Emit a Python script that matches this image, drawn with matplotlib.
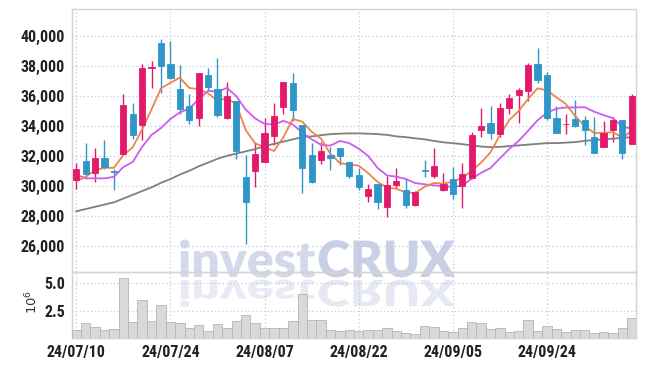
import matplotlib
matplotlib.use("Agg")
import matplotlib.pyplot as plt
import matplotlib.transforms as mtransforms
from matplotlib.textpath import TextPath
from matplotlib.patches import PathPatch
from matplotlib.font_manager import FontProperties, fontManager
from matplotlib.ticker import FuncFormatter
import numpy as np

# ---------------- data ----------------
dates = ["24/07/10", "24/07/11", "24/07/12", "24/07/15", "24/07/16", "24/07/17", "24/07/18", "24/07/19",
         "24/07/22", "24/07/23", "24/07/24", "24/07/25", "24/07/26", "24/07/29", "24/07/30", "24/07/31",
         "24/08/01", "24/08/02", "24/08/05", "24/08/06", "24/08/07", "24/08/08", "24/08/09", "24/08/12",
         "24/08/13", "24/08/14", "24/08/16", "24/08/19", "24/08/20", "24/08/21", "24/08/22", "24/08/23",
         "24/08/26", "24/08/27", "24/08/28", "24/08/29", "24/08/30", "24/09/02", "24/09/03", "24/09/04",
         "24/09/05", "24/09/06", "24/09/09", "24/09/10", "24/09/11", "24/09/12", "24/09/13", "24/09/19",
         "24/09/20", "24/09/23", "24/09/24", "24/09/25", "24/09/26", "24/09/27", "24/09/30", "24/10/02",
         "24/10/04", "24/10/07", "24/10/08", "24/10/10"]

opens = [30400, 31650, 30850, 31850, 31000, 32100, 34800, 34050, 37850, 39500,
         38100, 36450, 35350, 34550, 37400, 36450, 34550, 35650, 30600, 31000,
         31600, 33350, 35250, 36850, 34050, 32050, 31750, 32050, 32550, 31600,
         30750, 29350, 30100, 28600, 30050, 29700, 28700, 31050, 30650, 29700,
         30450, 30000, 30500, 33750, 34200, 33450, 35200, 36050, 36350, 38100,
         37400, 34500, 34100, 34450, 34400, 33250, 32600, 33750, 34400, 32800]
highs = [31500, 32850, 32550, 33050, 31150, 36100, 35500, 38100, 38300, 39800,
         39650, 38050, 36100, 37550, 37850, 38500, 36950, 35650, 32050, 32900,
         34500, 35550, 36950, 37500, 34050, 32850, 32950, 32600, 32550, 31600,
         31200, 30100, 30100, 30650, 31200, 30500, 29650, 31750, 32500, 30850,
         31250, 31500, 33600, 35200, 35350, 35500, 36100, 36550, 38200, 39200,
         37600, 35300, 34800, 35700, 34650, 34600, 34350, 34600, 34400, 36100]
lows = [29800, 30600, 30250, 31100, 29700, 32100, 33150, 33050, 36550, 36200,
        37100, 34800, 34150, 34000, 36350, 34600, 34450, 31800, 26100, 29900,
        31600, 32700, 34800, 34350, 29550, 30200, 31450, 31050, 31400, 30500,
        29750, 28950, 28450, 27950, 29800, 28550, 28650, 30600, 30500, 29650,
        29150, 28550, 30500, 33250, 33100, 33250, 34800, 34200, 35650, 36850,
        34400, 33500, 33450, 33900, 32700, 32200, 32600, 32950, 31800, 32800]
closes = [31150, 30800, 31850, 31250, 30950, 35400, 33400, 37850, 37900, 38000,
          37200, 35150, 34400, 37500, 36600, 34750, 36000, 32350, 28900, 32150,
          33550, 34650, 36950, 35050, 31200, 30250, 32300, 31850, 32000, 30650,
          29950, 29800, 28900, 30050, 30350, 28700, 29600, 31000, 31300, 30100,
          29450, 30800, 33400, 34000, 33550, 35200, 35850, 36400, 38050, 37050,
          34500, 33550, 34150, 34000, 33750, 32200, 33550, 34400, 32200, 36000]
ma5 = [30300, 30600, 31050, 31200, 31200, 32050, 32570, 33770, 35100, 36510,
       36870, 37220, 36530, 36450, 36170, 35680, 35850, 35440, 33720, 32830,
       32590, 32320, 33240, 34470, 34280, 33620, 33150, 32130, 31520, 31410,
       31350, 30850, 30260, 29870, 29810, 29560, 29520, 29940, 30190, 30140,
       30290, 30530, 31010, 31550, 32240, 33390, 34400, 35000, 35810, 36510,
       36370, 35910, 35460, 34650, 33990, 33530, 33530, 33580, 33220, 33670]
ma10 = [30750, 30500, 30500, 30500, 30600, 31250, 31600, 32600, 33400, 33855,
        34460, 34895, 35150, 35775, 36340, 36275, 36535, 35985, 35085, 34500,
        34135, 34085, 34340, 34095, 33555, 33105, 32735, 32685, 32995, 32845,
        32485, 32000, 31195, 30695, 30610, 30455, 30185, 30100, 30030, 29975,
        29925, 30025, 30475, 30870, 31190, 31840, 32465, 33005, 33680, 34375,
        34880, 35155, 35230, 35230, 35250, 34950, 34720, 34520, 33935, 33830]
ma_long = [28300, 28450, 28600, 28750, 28900, 29150, 29400, 29650, 29900, 30200,
           30450, 30750, 31000, 31300, 31550, 31800, 32000, 32150, 32300, 32450,
           32650, 32800, 32950, 33100, 33250, 33300, 33380, 33450, 33480, 33500,
           33500, 33480, 33450, 33400, 33300, 33250, 33170, 33100, 33000, 32900,
           32850, 32780, 32700, 32620, 32580, 32600, 32650, 32700, 32750, 32800,
           32850, 32850, 32880, 32920, 33000, 33050, 33100, 33150, 33200, 33250]
volumes = [0.77, 1.38, 1.02, 0.75, 0.84, 5.47, 1.47, 3.47, 1.59, 3.02,
           1.47, 1.38, 0.93, 1.20, 0.68, 1.29, 0.93, 1.56, 2.10, 1.38,
           0.93, 0.93, 0.93, 1.56, 4.02, 1.65, 1.65, 0.75, 0.62, 0.75,
           0.68, 0.75, 0.75, 0.93, 0.68, 0.50, 0.35, 1.11, 1.02, 0.68,
           0.59, 0.93, 1.47, 1.38, 0.84, 0.93, 0.59, 0.68, 1.65, 0.68,
           1.11, 0.84, 0.59, 0.75, 0.75, 0.50, 0.59, 0.50, 0.93, 1.84]
price_ticks = [26000, 28000, 30000, 32000, 34000, 36000, 38000, 40000]
volume_ticks = [2.5, 5.0]
date_tick_idx = [0, 10, 20, 30, 40, 50]

# ---------------- style ----------------
UP = "#E3196B"
DOWN = "#2E96C8"
C_MA5 = "#F0834A"
C_MA10 = "#CC5CEE"
C_LONG = "#7F7F7F"
GRID = "#C5C9DA"
SPINE = "#D4D4D4"
TXT = "#222222"

installed = {f.name for f in fontManager.ttflist}
cands = ['Roboto Condensed', 'Liberation Sans Narrow', 'DejaVu Sans Condensed',
         'Open Sans Condensed', 'Liberation Sans']
fam = [f for f in cands if f in installed] + ['DejaVu Sans']
narrow = fam[0]
plt.rcParams['font.family'] = fam
lab_size = 11.5 if narrow != 'Liberation Sans' else 10.5

fig = plt.figure(figsize=(6.45, 3.66), dpi=100)
fig.patch.set_facecolor("white")

L, R = 72 / 645, 636 / 645
ax = fig.add_axes([L, 1 - 272 / 366, R - L, (272 - 9) / 366])
axv = fig.add_axes([L, 1 - 338 / 366, R - L, (338 - 272) / 366], sharex=ax)
for a in (ax, axv):
    a.set_facecolor("none")
    for s in a.spines.values():
        s.set_color(SPINE)
        s.set_linewidth(1.0)
    a.set_zorder(2)

# watermark (figure level, behind axes content)
def add_wm(text, weight, x0, base, size, color, flip=False, yscale=1.0):
    fp = FontProperties(family=['Lato', 'DejaVu Sans'], weight=weight)
    tp = TextPath((0, 0), text, size=size, prop=fp)
    sy = -yscale if flip else 1.0
    tr = mtransforms.Affine2D().scale(1.0 / 100, sy / 100).translate(x0 / 100, base / 100) + fig.dpi_scale_trans
    p = PathPatch(tp, transform=tr, facecolor=color, edgecolor="none", zorder=0)
    fig.add_artist(p)

base = 366 - 277
sz = 50
fp_tmp = FontProperties(family=['Lato', 'DejaVu Sans'], weight='heavy')
w1 = TextPath((0, 0), "invest", size=sz, prop=fp_tmp).get_extents().width
add_wm("invest", 'heavy', 178, base, sz, "#D3D8EA")
add_wm("CRUX", 'heavy', 178 + w1 + 4, base, sz, "#C9D0E6")
add_wm("invest", 'heavy', 178, base - 3, sz, "#E9EBF4", flip=True, yscale=0.72)
add_wm("CRUX", 'heavy', 178 + w1 + 4, base - 3, sz, "#E6E9F3", flip=True, yscale=0.72)

x = np.arange(len(closes))
o = np.array(opens); c = np.array(closes); h = np.array(highs); l = np.array(lows)
up = c >= o
colors = np.where(up, UP, DOWN)

ax.vlines(x, l, h, colors=colors, linewidth=1.0, zorder=3)
body_bottom = np.minimum(o, c)
body_h = np.maximum(np.abs(c - o), 40)
ax.bar(x, body_h, bottom=body_bottom, width=0.66, color=colors, edgecolor=colors,
       linewidth=0.6, zorder=4)

ax.plot(x, ma_long, color=C_LONG, linewidth=1.3, zorder=3)
ax.plot(x, ma10, color=C_MA10, linewidth=1.3, zorder=3)
ax.plot(x, ma5, color=C_MA5, linewidth=1.3, zorder=3)

ax.set_xlim(-0.45, 59.45)
ax.set_ylim(24250, 41800)
ax.set_yticks(price_ticks)
ax.yaxis.set_major_formatter(FuncFormatter(lambda v, p: f"{int(v):,}"))
ax.grid(True, color=GRID, linestyle=(0, (1, 2)), linewidth=0.9)
ax.set_axisbelow(True)
ax.tick_params(axis='both', length=0, pad=5, labelsize=lab_size, colors=TXT)
for t in ax.get_yticklabels():
    t.set_fontweight('bold')
plt.setp(ax.get_xticklabels(), visible=False)

axv.bar(x, volumes, width=1.0, color="#D9D9D9", edgecolor="#B5B5B5", linewidth=0.6, zorder=3)
axv.set_ylim(0, 6.02)
axv.set_yticks(volume_ticks)
axv.yaxis.set_major_formatter(FuncFormatter(lambda v, p: f"{v:.1f}"))
axv.set_xticks(date_tick_idx)
axv.set_xticklabels([dates[i] for i in date_tick_idx])
axv.grid(True, color=GRID, linestyle=(0, (1, 2)), linewidth=0.9)
axv.set_axisbelow(True)
axv.tick_params(axis='both', length=0, pad=5, labelsize=lab_size, colors=TXT)
for t in axv.get_yticklabels() + axv.get_xticklabels():
    t.set_fontweight('bold')
axv.set_ylabel(r"$10^6$", fontsize=9.5, color="#333333", family='DejaVu Sans')
axv.yaxis.set_label_coords(-0.056, 0.55)

fig.savefig("out.png", dpi=100, facecolor="white")
